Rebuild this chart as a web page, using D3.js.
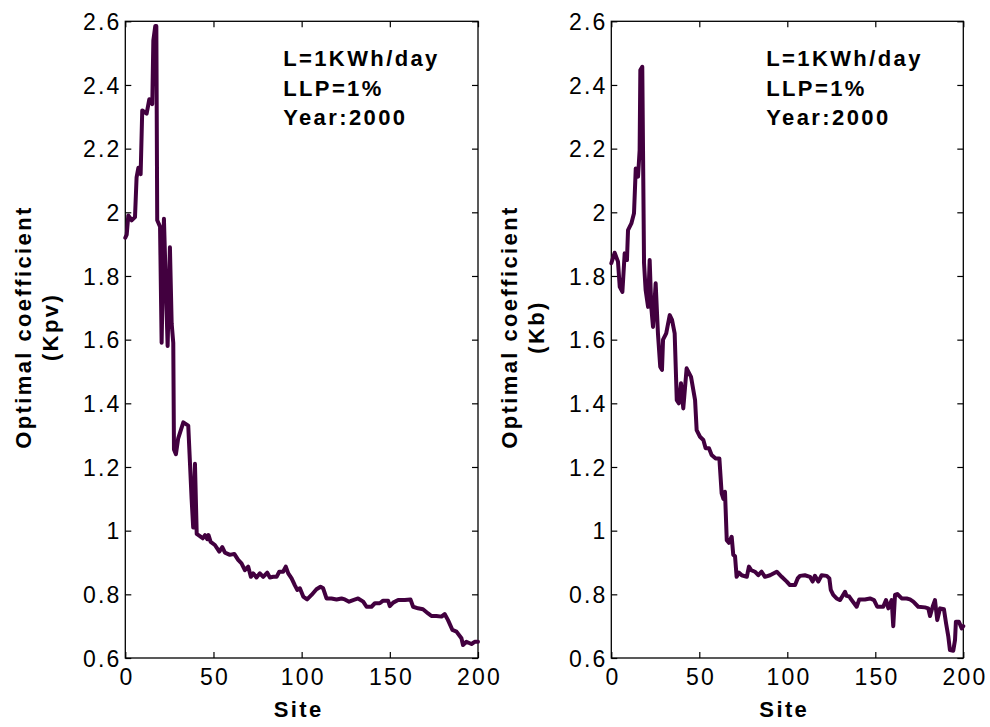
<!DOCTYPE html>
<html>
<head>
<meta charset="utf-8">
<script src="https://cdn.jsdelivr.net/npm/d3@7"></script>
<style>
  html, body { margin: 0; padding: 0; background: #fff; }
  svg { display: block; }
  text { font-family: "Liberation Sans", Arial, Helvetica, sans-serif; fill: #000; }
</style>
</head>
<body>
<svg id="chart" width="990" height="727"></svg>
<script>
// ---- data ----
const xTicks = [0, 50, 100, 150, 200];
const yTicks = [0.6, 0.8, 1.0, 1.2, 1.4, 1.6, 1.8, 2.0, 2.2, 2.4, 2.6];
const yTickLabels = ["0.6", "0.8", "1", "1.2", "1.4", "1.6", "1.8", "2", "2.2", "2.4", "2.6"];
const annotationLines = ["L=1KWh/day", "LLP=1%", "Year:2000"];
const xLabel = "Site";
const yLabelKpv = ["Optimal coefficient", "(Kpv)"];
const yLabelKb = ["Optimal coefficient", "(Kb)"];

const sitesKpv = [0, 0.8, 1.7, 3.6, 5.5, 6.4, 7.4, 8.7, 9.6, 12.1, 13.6, 15.3, 15.9, 17.0, 17.6, 18.1, 19.7, 20.6, 21.9, 24.0,
  25.3, 26.3, 27.2, 27.6, 28.7, 30, 32.9, 35.7, 37.6, 38.5, 39.5, 40.5, 42.3, 43.9, 45.2, 46.5, 47.2, 48.4, 50.8, 53.3,
  55, 56.5, 59.3, 61.8, 64, 65.9, 67.8, 69.7, 71.2, 72.5, 74.4, 76.3, 78.2, 80.5, 82, 83.9, 85.8, 87.3, 89.5, 91,
  92.4, 94.3, 96.1, 97.5, 99, 100.9, 103.1, 105.6, 108.4, 110.7, 112.2, 114.1, 116.9, 119.8, 122.6, 124.5, 126.9, 129.2, 132, 134.9,
  136.8, 139.6, 141.5, 144.3, 146.2, 149, 150, 151.9, 154.7, 158.5, 161.7, 163.2, 166, 168.8, 171.7, 173.6, 176.4, 179.3, 181.1, 183,
  185.5, 187.8, 190.6, 191.5, 193.4, 196.3, 198.1, 200];
const kpv = [1.92, 1.93, 1.99, 1.975, 1.985, 2.11, 2.14, 2.12, 2.32, 2.31, 2.355, 2.34, 2.54, 2.585, 2.585, 1.975, 1.955, 1.59, 1.98, 1.58,
  1.89, 1.65, 1.59, 1.255, 1.24, 1.29, 1.34, 1.33, 1.10, 1.01, 1.21, 0.99, 0.983, 0.976, 0.986, 0.973, 0.986, 0.965, 0.955, 0.934,
  0.948, 0.931, 0.924, 0.927, 0.908, 0.897, 0.876, 0.887, 0.855, 0.866, 0.853, 0.866, 0.855, 0.868, 0.853, 0.855, 0.855, 0.871, 0.871, 0.887,
  0.866, 0.85, 0.829, 0.814, 0.819, 0.793, 0.784, 0.798, 0.816, 0.824, 0.819, 0.787, 0.787, 0.784, 0.787, 0.784, 0.777, 0.782, 0.787, 0.777,
  0.761, 0.761, 0.772, 0.772, 0.78, 0.78, 0.763, 0.774, 0.782, 0.782, 0.784, 0.761, 0.756, 0.753, 0.74, 0.732, 0.732, 0.73, 0.738, 0.719,
  0.688, 0.683, 0.662, 0.641, 0.651, 0.644, 0.651, 0.651];

const sitesKb = [0, 1.9, 3.8, 4.8, 6.3, 7.6, 8.9, 9.5, 11.4, 12.9, 13.9, 15.2, 16.1, 16.5, 17.6, 18.6, 19.5, 20.9, 21.8, 22.7,
  23.7, 25.2, 26.5, 27.8, 28.8, 29.4, 31.2, 33.2, 34.5, 36, 37.2, 38.4, 39.6, 40.9, 42.8, 45.3, 47.6, 48.5, 50.4, 52.3,
  53.6, 55.5, 57, 59.3, 61.4, 62.7, 63.7, 64.6, 65.6, 66.8, 68.4, 69.3, 70.3, 71.2, 72.6, 74.1, 77, 78.2, 79.5, 81.6,
  83.5, 85.4, 87.3, 90.2, 94, 96.8, 99.7, 101.5, 104.4, 105.9, 107.2, 110, 112.9, 114.4, 115.7, 117.6, 119.5, 122.4, 123.9, 124.7,
  126.1, 128, 130, 132.8, 133.7, 135.2, 136.6, 139.4, 140.9, 144.1, 147, 149.3, 151.1, 154.5, 156.1, 157.4, 159.3, 160.2, 161.2, 162.5,
  165, 167.8, 169.7, 171.6, 174.4, 178.2, 180.1, 181.1, 182.6, 183.9, 185.2, 186.8, 189, 190.2, 191.5, 192.4, 194.3, 195.3, 195.8, 197.5,
  199.1, 200];
const kb = [1.84, 1.873, 1.845, 1.766, 1.75, 1.871, 1.85, 1.944, 1.965, 1.997, 2.138, 2.112, 2.195, 2.447, 2.457, 1.84, 1.756, 1.703, 1.85, 1.703,
  1.64, 1.777, 1.62, 1.515, 1.505, 1.6, 1.62, 1.677, 1.662, 1.62, 1.41, 1.40, 1.463, 1.384, 1.51, 1.483, 1.41, 1.316, 1.295, 1.285,
  1.259, 1.259, 1.238, 1.227, 1.227, 1.117, 1.10, 1.122, 0.97, 0.962, 0.981, 0.924, 0.92, 0.855, 0.868, 0.86, 0.855, 0.887, 0.876, 0.871,
  0.86, 0.871, 0.855, 0.86, 0.871, 0.855, 0.84, 0.829, 0.829, 0.85, 0.858, 0.86, 0.855, 0.84, 0.858, 0.84, 0.86, 0.858, 0.85, 0.814,
  0.798, 0.787, 0.782, 0.808, 0.795, 0.793, 0.782, 0.761, 0.784, 0.784, 0.787, 0.782, 0.761, 0.761, 0.782, 0.756, 0.782, 0.70, 0.798, 0.801,
  0.787, 0.787, 0.784, 0.777, 0.761, 0.759, 0.756, 0.732, 0.761, 0.782, 0.719, 0.756, 0.753, 0.709, 0.667, 0.625, 0.623, 0.657, 0.714, 0.714,
  0.693, 0.70];

// ---- drawing ----
const svg = d3.select("#chart");
const LINE_COLOR = "#42003f";
const FS = 22, LS = 2.4, TFS = 23, TLS = 2.2;

function panel(left, right, top, bottom, sites, values, yLabel, yLabelX, annSite) {
  const x = d3.scaleLinear().domain([0, 200]).range([left, right]);
  const y = d3.scaleLinear().domain([0.6, 2.6]).range([bottom, top]);
  const g = svg.append("g");

  g.append("rect").attr("x", left).attr("y", top)
    .attr("width", right - left).attr("height", bottom - top)
    .attr("fill", "none").attr("stroke", "#000").attr("stroke-width", 1.3);

  const fmtY = d => yTickLabels[yTicks.findIndex(t => Math.abs(t - d) < 1e-9)];

  const axB = g.append("g").attr("transform", `translate(0,${bottom})`)
    .call(d3.axisBottom(x).tickValues(xTicks).tickSizeInner(-6).tickSizeOuter(0).tickPadding(11).tickFormat(d3.format("d")));
  const axL = g.append("g").attr("transform", `translate(${left},0)`)
    .call(d3.axisLeft(y).tickValues(yTicks).tickSizeInner(-6).tickSizeOuter(0).tickPadding(6).tickFormat(fmtY));
  const axT = g.append("g").attr("transform", `translate(0,${top})`)
    .call(d3.axisTop(x).tickValues(xTicks).tickSizeInner(-6).tickSizeOuter(0).tickFormat(""));
  const axR = g.append("g").attr("transform", `translate(${right},0)`)
    .call(d3.axisRight(y).tickValues(yTicks).tickSizeInner(-6).tickSizeOuter(0).tickFormat(""));

  [axB, axL, axT, axR].forEach(a => {
    a.select(".domain").remove();
    a.selectAll(".tick line").attr("stroke", "#000").attr("stroke-width", 1.2);
    a.selectAll("text").attr("font-size", TFS).attr("font-family", "Liberation Sans, Arial, sans-serif")
      .attr("letter-spacing", TLS).attr("fill", "#000");
  });
  axL.selectAll("text").attr("dx", TLS).attr("dy", "0.36em");
  axB.selectAll("text").attr("dx", TLS / 2);

  const pts = sites.map((s, i) => [s, values[i]]);
  g.append("path").datum(pts)
    .attr("fill", "none").attr("stroke", LINE_COLOR).attr("stroke-width", 4)
    .attr("stroke-linejoin", "round").attr("stroke-linecap", "round")
    .attr("d", d3.line().x(d => x(d[0])).y(d => y(d[1])));

  annotationLines.forEach((t, i) => {
    g.append("text").attr("x", x(annSite)).attr("y", top + 45 + i * 29.5)
      .attr("font-size", FS).attr("font-weight", "bold").attr("letter-spacing", LS).text(t);
  });

  g.append("text").attr("x", (left + right) / 2 - 3).attr("y", 717)
    .attr("text-anchor", "middle").attr("font-size", FS).attr("font-weight", "bold")
    .attr("letter-spacing", LS).text(xLabel);

  const cy = 327;
  yLabel.forEach((t, i) => {
    const bx = yLabelX + i * 27;
    g.append("text").attr("transform", `translate(${bx},${cy}) rotate(-90)`)
      .attr("text-anchor", "middle").attr("font-size", FS).attr("font-weight", "bold")
      .attr("letter-spacing", LS).text(t);
  });
}

panel(125.3, 478, 21.3, 658, sitesKpv, kpv, yLabelKpv, 31, 89.5);
panel(611.3, 963.3, 21.3, 658, sitesKb, kb, yLabelKb, 517, 88);
</script>
</body>
</html>
